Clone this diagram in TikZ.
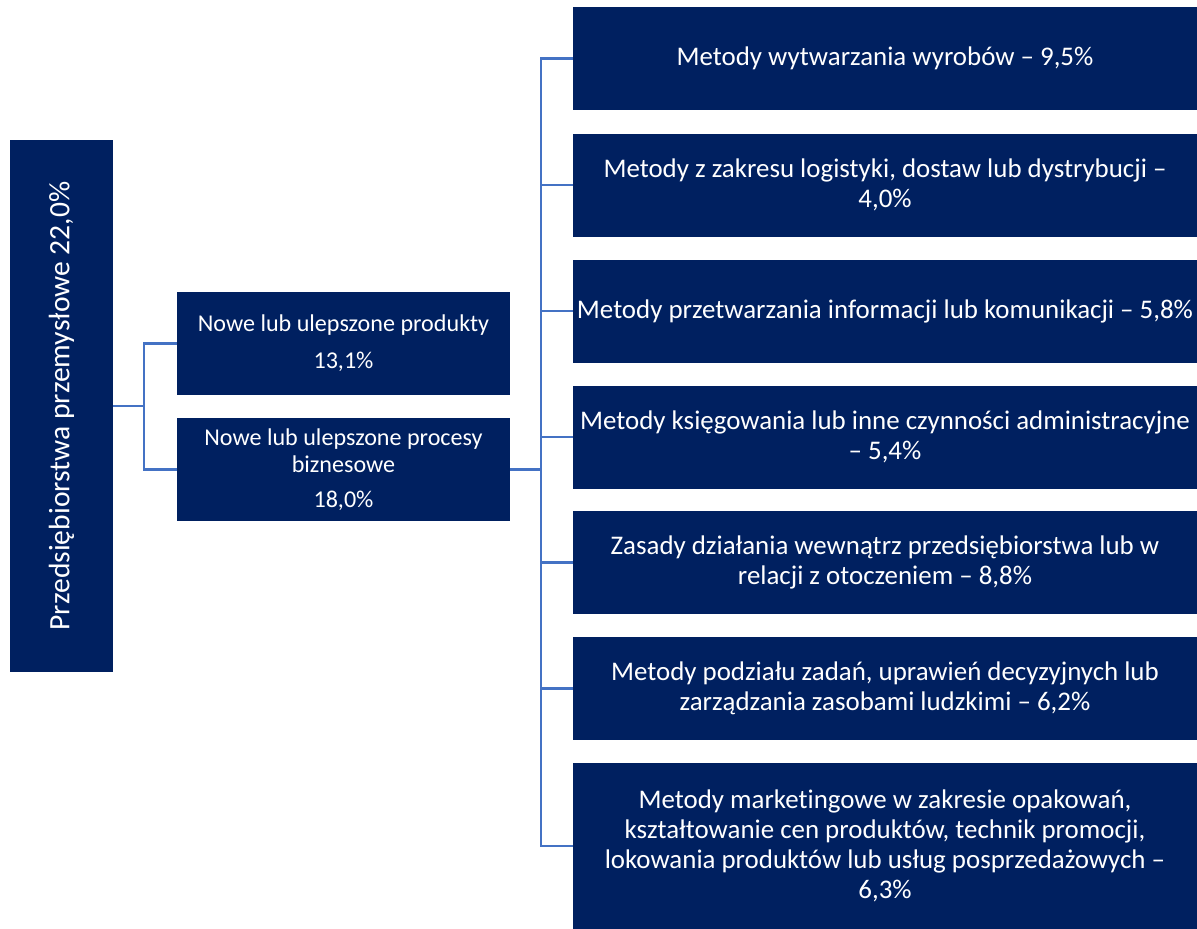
\documentclass[tikz,border=0pt]{standalone}
\usepackage{fontspec}
\setmainfont{Carlito}[Ligatures=NoCommon]
\definecolor{boxnavy}{HTML}{002060}
\definecolor{linkblue}{HTML}{4472C4}
\begin{document}
\begin{tikzpicture}[x=1bp,y=-1bp,
  box/.style={fill=boxnavy,draw=none,text=white,inner sep=0pt,align=center},
  rootbox/.style={box,rotate=90,minimum width=532bp,minimum height=103bp,font=\fontsize{29.7}{34}\selectfont},
  midbox/.style={box,minimum width=333bp,minimum height=103bp,font=\fontsize{24.2}{27}\selectfont},
  leafbox/.style={box,minimum width=624bp,minimum height=103bp,font=\fontsize{27}{30}\selectfont},
  link/.style={draw=linkblue,line width=2.5bp}]
\useasboundingbox (0,0) rectangle (1197,929);

% root
\node[rootbox] (root) at (61.5,406) {Przedsiębiorstwa przemysłowe 22,0\%};

% second level
\node[midbox] (prod) at (343.5,343.5) {Nowe lub ulepszone produkty\\[10bp]13,1\%};
\node[midbox] (proc) at (343.5,469.5) {Nowe lub ulepszone procesy\\biznesowe\\[8bp]18,0\%};

% process categories
\node[leafbox] (r1) at (885,58.5) {Metody wytwarzania wyrobów – 9,5\%};
\node[leafbox] (r2) at (885,185) {Metody z zakresu logistyki, dostaw lub dystrybucji –\\4,0\%};
\node[leafbox] (r3) at (885,311) {Metody przetwarzania informacji lub komunikacji – 5,8\%};
\node[leafbox] (r4) at (885,437) {Metody księgowania lub inne czynności administracyjne\\– 5,4\%};
\node[leafbox] (r5) at (885,562.5) {Zasady działania wewnątrz przedsiębiorstwa lub w\\relacji z otoczeniem – 8,8\%};
\node[leafbox] (r6) at (885,688.5) {Metody podziału zadań, uprawień decyzyjnych lub\\zarządzania zasobami ludzkimi – 6,2\%};
\node[leafbox,minimum height=166bp] (r7) at (885,846) {Metody marketingowe w zakresie opakowań,\\kształtowanie cen produktów, technik promocji,\\lokowania produktów lub usług posprzedażowych –\\6,3\%};

% junctions
\coordinate (j1) at (144,406);
\coordinate (j2) at (541,469.5);

% connectors
\draw[link] (root.south) -- (j1);
\draw[link] (prod.west) -| (j1);
\draw[link] (proc.west) -| (j1);
\draw[link] (proc.east) -- (j2);
\foreach \n in {r1,r2,r3,r4,r5,r6,r7}
  \draw[link] (\n.west) -| (j2);
\end{tikzpicture}
\end{document}
